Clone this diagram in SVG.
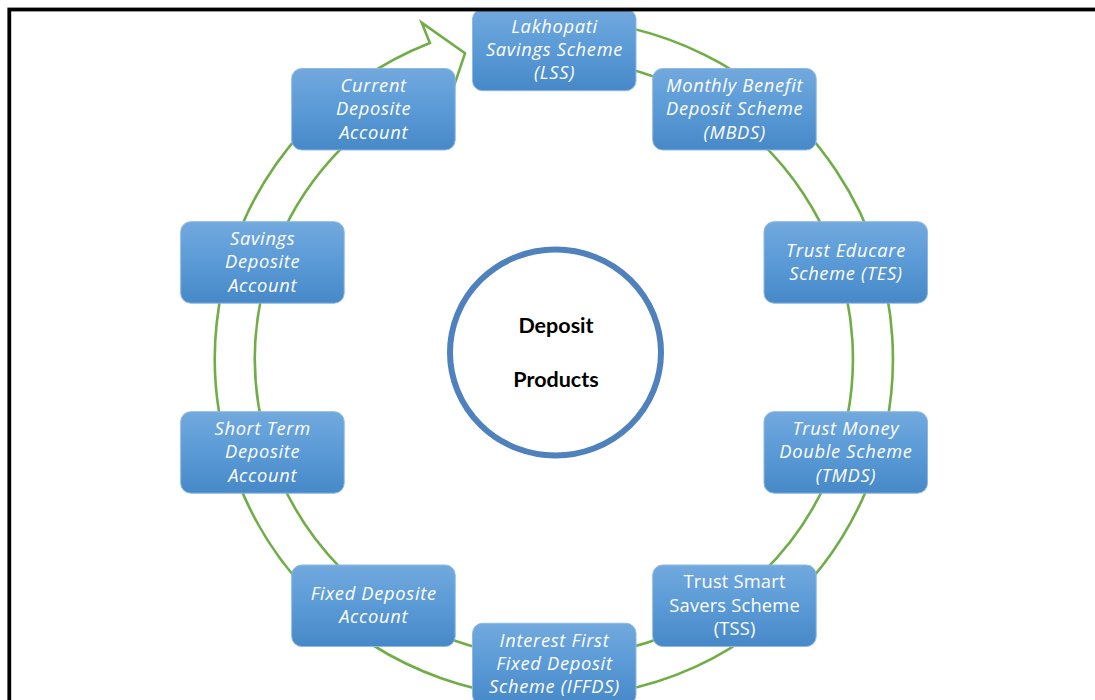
<svg xmlns="http://www.w3.org/2000/svg" width="1095" height="700" viewBox="0 0 1095 700">
<defs>
<linearGradient id="boxGrad" x1="0" y1="0" x2="0" y2="1">
<stop offset="0" stop-color="#72A9DE"/>
<stop offset="0.5" stop-color="#5A9AD6"/>
<stop offset="1" stop-color="#4788C8"/>
</linearGradient>
</defs>
<style>
.box{fill:url(#boxGrad);stroke:#8DB9E3;stroke-width:1}
.lbl{font-family:"Open Sans",Lato,"Liberation Sans",sans-serif;font-size:18.3px;letter-spacing:0.7px;font-style:italic;fill:#FFFFFF;text-anchor:middle}
.up{font-style:normal;letter-spacing:0.2px}
.ring{fill:#FFFFFF;stroke:#70AD47;stroke-width:2.6;stroke-linejoin:miter}
.hub{fill:#FFFFFF;stroke:#4F81BD;stroke-width:6}
.hubtxt{font-family:Lato,"Liberation Sans",sans-serif;font-size:21.5px;font-weight:bold;fill:#000000;text-anchor:middle}
.frame{fill:none;stroke:#000000;stroke-width:3.8}
</style>
<rect x="0" y="0" width="1095" height="700" fill="#FFFFFF"/>
<g id="connectors">
<path class="ring" d="M554 19.5 A339 339 0 1 1 429.9 43 L421.7 22.7 L465 53.3 L448.8 101.4 L444.6 80.2 A299 299 0 1 0 554 59.5 Z"/>
</g>
<g id="hub">
<ellipse class="hub" cx="555.5" cy="352.5" rx="105.5" ry="103"/>
<text class="hubtxt" x="556" y="333">Deposit</text>
<text class="hubtxt" x="556" y="387">Products</text>
</g>
<g id="lss">
<rect class="box" x="472.5" y="9.2" width="163.5" height="81.5" rx="10"/>
<text class="lbl" x="554.5" y="32.6">Lakhopati</text>
<text class="lbl" x="554.5" y="55.9">Savings Scheme</text>
<text class="lbl" x="554.5" y="79.2">(LSS)</text>
</g>
<g id="mbds">
<rect class="box" x="652.7" y="68.5" width="163.5" height="81.5" rx="10"/>
<text class="lbl" x="734.7" y="91.9">Monthly Benefit</text>
<text class="lbl" x="734.7" y="115.2">Deposit Scheme</text>
<text class="lbl" x="734.7" y="138.5">(MBDS)</text>
</g>
<g id="tes">
<rect class="box" x="764" y="221.7" width="163.5" height="81.5" rx="10"/>
<text class="lbl" x="846" y="256.7">Trust Educare</text>
<text class="lbl" x="846" y="280">Scheme (TES)</text>
</g>
<g id="tmds">
<rect class="box" x="764" y="411.7" width="163.5" height="81.5" rx="10"/>
<text class="lbl" x="846" y="435.1">Trust Money</text>
<text class="lbl" x="846" y="458.4">Double Scheme</text>
<text class="lbl" x="846" y="481.7">(TMDS)</text>
</g>
<g id="tss">
<rect class="box" x="652.7" y="565" width="163.5" height="81.5" rx="10"/>
<text class="lbl up" x="734.6" y="588.4">Trust Smart</text>
<text class="lbl up" x="734.6" y="611.7">Savers Scheme</text>
<text class="lbl up" x="734.6" y="635">(TSS)</text>
</g>
<g id="iffds">
<rect class="box" x="472.5" y="623.3" width="163.5" height="81.5" rx="10"/>
<text class="lbl" x="554.5" y="646.7">Interest First</text>
<text class="lbl" x="554.5" y="670">Fixed Deposit</text>
<text class="lbl" x="554.5" y="693.3">Scheme (IFFDS)</text>
</g>
<g id="fixed">
<rect class="box" x="291.7" y="565" width="163.5" height="81.5" rx="10"/>
<text class="lbl" x="373.7" y="600">Fixed Deposite</text>
<text class="lbl" x="373.7" y="623.3">Account</text>
</g>
<g id="shortterm">
<rect class="box" x="180.7" y="411.7" width="163.5" height="81.5" rx="10"/>
<text class="lbl" x="262.7" y="435.1">Short Term</text>
<text class="lbl" x="262.7" y="458.4">Deposite</text>
<text class="lbl" x="262.7" y="481.7">Account</text>
</g>
<g id="savings">
<rect class="box" x="180.7" y="221.7" width="163.5" height="81.5" rx="10"/>
<text class="lbl" x="262.7" y="245.1">Savings</text>
<text class="lbl" x="262.7" y="268.4">Deposite</text>
<text class="lbl" x="262.7" y="291.7">Account</text>
</g>
<g id="current">
<rect class="box" x="291.7" y="68.5" width="163.5" height="81.5" rx="10"/>
<text class="lbl" x="373.7" y="91.9">Current</text>
<text class="lbl" x="373.7" y="115.2">Deposite</text>
<text class="lbl" x="373.7" y="138.5">Account</text>
</g>
<rect class="frame" x="9.3" y="9.5" width="1200" height="800"/>
</svg>
